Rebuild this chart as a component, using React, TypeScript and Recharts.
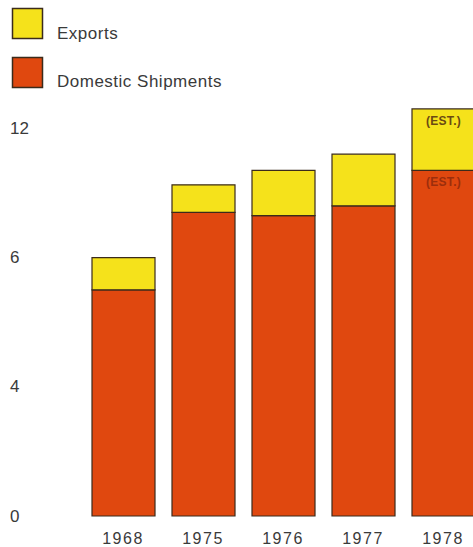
import { BarChart, Bar, XAxis, YAxis, LabelList } from "recharts";

// shipment totals per year, domestic + exports stacked
const years = ["1968", "1975", "1976", "1977", "1978"];
const domestic = [7.0, 9.4, 9.3, 9.6, 10.7];
const exportsVol = [1.0, 0.85, 1.4, 1.6, 1.9];
const estimated = [false, false, false, false, true];

const yTicks = [0, 4, 8, 12];
const yTickLabels = ["0", "4", "6", "12"];

const YELLOW = "#f5e21b";
const RED = "#e0480f";
const OUTLINE = "#3b2b1b";
const TEXT = "#3a3a3a";
const FONT = "'Liberation Sans', Arial, sans-serif";

const series = [
  { key: "exports", name: "Exports", color: YELLOW },
  { key: "domestic", name: "Domestic Shipments", color: RED },
];

const data = years.map((year, i) => ({
  year,
  domestic: domestic[i],
  exports: exportsVol[i],
  est: estimated[i],
}));

function YTick({ y, index }: any) {
  return (
    <text
      x={10}
      y={y}
      dominantBaseline="central"
      textAnchor="start"
      fontFamily={FONT}
      fontSize={17}
      fill={TEXT}
    >
      {yTickLabels[index]}
    </text>
  );
}

function XTick({ x, y, payload }: any) {
  return (
    <text
      x={x}
      y={y + 22}
      dominantBaseline="central"
      textAnchor="middle"
      fontFamily={FONT}
      fontSize={16}
      letterSpacing={1.5}
      fill={TEXT}
    >
      {payload.value}
    </text>
  );
}

const estLabel = (color: string, offset: number) => (props: any) => {
  const { x, y, width, index } = props;
  if (!estimated[index]) return null;
  return (
    <text
      x={x + width / 2}
      y={y + offset}
      dominantBaseline="central"
      textAnchor="middle"
      fontFamily={FONT}
      fontSize={12}
      fontWeight="bold"
      letterSpacing={0.3}
      fill={color}
    >
      (EST.)
    </text>
  );
};

function LegendBox() {
  return (
    <svg
      width={473}
      height={100}
      style={{ position: "absolute", left: 0, top: 0 }}
    >
      {series.map((s, i) => (
        <g key={s.key}>
          <rect
            x={12.5}
            y={8.5 + i * 49}
            width={30}
            height={30}
            fill={s.color}
            stroke={OUTLINE}
            strokeWidth={1.5}
          />
          <text
            x={57}
            y={39 + i * 48}
            fontFamily={FONT}
            fontSize={17}
            letterSpacing={0.5}
            fill={TEXT}
          >
            {s.name}
          </text>
        </g>
      ))}
    </svg>
  );
}

export default function App() {
  return (
    <div
      style={{
        position: "absolute",
        left: 0,
        top: 0,
        width: 473,
        height: 547,
        overflow: "hidden",
        background: "#fff",
      }}
    >
      <BarChart
        width={483}
        height={547}
        data={data}
        margin={{ top: 96, right: 0, bottom: 0, left: 0 }}
        barSize={63}
      >
        <XAxis
          dataKey="year"
          height={31}
          axisLine={false}
          tickLine={false}
          tickSize={0}
          tickMargin={0}
          tick={<XTick />}
        />
        <YAxis
          width={83}
          domain={[0, 13]}
          ticks={yTicks}
          axisLine={false}
          tickLine={false}
          tick={<YTick />}
        />
        <Bar
          dataKey="domestic"
          stackId="a"
          fill={RED}
          stroke={OUTLINE}
          strokeWidth={1.2}
          isAnimationActive={false}
        >
          <LabelList dataKey="domestic" content={estLabel("#9c2e0c", 12)} />
        </Bar>
        <Bar
          dataKey="exports"
          stackId="a"
          fill={YELLOW}
          stroke={OUTLINE}
          strokeWidth={1.2}
          isAnimationActive={false}
        >
          <LabelList dataKey="exports" content={estLabel("#6b4a12", 12)} />
        </Bar>
      </BarChart>
      <LegendBox />
    </div>
  );
}
